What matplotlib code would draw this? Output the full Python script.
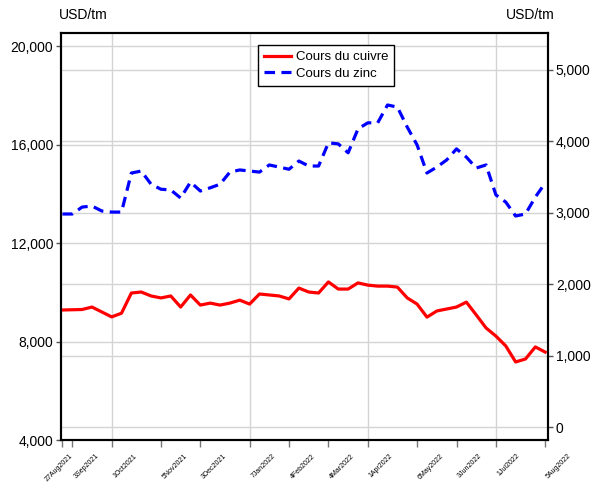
import matplotlib
matplotlib.use('Agg')
import matplotlib.pyplot as plt
import matplotlib.ticker as mticker
import matplotlib.transforms as mtransforms
import pandas as pd

plt.rcParams['font.family'] = ['Liberation Sans Narrow', 'Liberation Sans', 'DejaVu Sans']

# weekly observations, 27 Aug 2021 -> 5 Aug 2022
dates = pd.date_range('2021-08-27', periods=50, freq='7D')

# cours du cuivre, USD/tm (axe gauche)
cuivre = [9280, 9290, 9300, 9400, 9200, 9000, 9150, 9970, 10010, 9850,
          9770, 9850, 9400, 9890, 9480, 9560, 9480, 9560, 9680, 9520,
          9930, 9890, 9850, 9730, 10170, 10010, 9970, 10420, 10130, 10130,
          10380, 10290, 10250, 10250, 10210, 9770, 9520, 8990, 9240, 9320,
          9400, 9600, 9080, 8550, 8220, 7820, 7170, 7290, 7780, 7570]

# cours du zinc, USD/tm (axe droit)
zinc = [2983, 2983, 3080, 3095, 3025, 3010, 3010, 3557, 3585, 3400,
        3330, 3320, 3207, 3430, 3305, 3350, 3400, 3570, 3600, 3585,
        3570, 3670, 3640, 3610, 3725, 3655, 3655, 3980, 3965, 3840,
        4175, 4260, 4260, 4510, 4480, 4200, 3950, 3557, 3640, 3740,
        3895, 3780, 3627, 3670, 3250, 3150, 2955, 2983, 3220, 3417]

tick_dates = ['2021-08-27', '2021-09-03', '2021-10-01', '2021-11-05', '2021-12-03',
              '2022-01-07', '2022-02-04', '2022-03-04', '2022-04-01', '2022-05-06',
              '2022-06-03', '2022-07-01', '2022-08-05']
tick_labels = ['27Aug2021', '3Sep2021', '1Oct2021', '5Nov2021', '3Dec2021',
               '7Jan2022', '4Feb2022', '4Mar2022', '1Apr2022', '6May2022',
               '3Jun2022', '1Jul2022', '5Aug2022']
vgrid_dates = ['2021-10-01', '2022-01-07', '2022-04-01', '2022-07-01']

left_ticks = [4000, 8000, 12000, 16000, 20000]
right_ticks = [0, 1000, 2000, 3000, 4000, 5000]
lo1, hi1 = 4000, 20530
lo2, hi2 = -182, 5518

fig = plt.figure(figsize=(6, 4.87), dpi=100)
ax = fig.add_axes([61 / 600, 1 - 440 / 487, 487 / 600, 407 / 487])
ax2 = ax.twinx()

gcol = '#d4d4d4'
for v in left_ticks[1:]:
    ax.axhline(v, color=gcol, lw=1, zorder=0)
for v in right_ticks:
    ax.axhline(lo1 + (v - lo2) / (hi2 - lo2) * (hi1 - lo1), color=gcol, lw=1, zorder=0)
for d in vgrid_dates:
    ax.axvline(pd.Timestamp(d), color=gcol, lw=1, zorder=0)

l1, = ax.plot(dates, cuivre, color='#ff0000', lw=2.3,
              label='Cours du cuivre', zorder=3)
l2, = ax2.plot(dates, zinc, color='#0000ff', lw=2.3, dashes=(3.3, 2),
               label='Cours du zinc', zorder=3)

ax.set_xlim(pd.Timestamp('2021-08-26'), pd.Timestamp('2022-08-07'))
ax.set_ylim(lo1, hi1)
ax2.set_ylim(lo2, hi2)

ax.set_yticks(left_ticks)
ax2.set_yticks(right_ticks)
fmt = mticker.FuncFormatter(lambda v, p: f'{v:,.0f}')
ax.yaxis.set_major_formatter(fmt)
ax2.yaxis.set_major_formatter(fmt)
ax.tick_params(axis='y', labelsize=10, length=3.6, width=1, color='#555555', pad=2)
ax2.tick_params(axis='y', labelsize=10, length=3.6, width=1, color='#555555', pad=2)

ax.set_xticks([pd.Timestamp(d) for d in tick_dates])
ax.set_xticklabels(tick_labels, rotation=45, ha='left', va='top', fontsize=5)
ax.tick_params(axis='x', length=5, width=1, color='#777777', pad=4)
# first label is pushed left so it does not hit the second one
first = ax.get_xticklabels()[0]
first.set_transform(first.get_transform() +
                    mtransforms.ScaledTranslation(-19 / 100, 0, fig.dpi_scale_trans))

for a in (ax, ax2):
    for s in a.spines.values():
        s.set_linewidth(1.5)
        s.set_color('black')

fig.text(59 / 600, 1 - 15 / 487, 'USD/tm', fontsize=10, ha='left', va='center')
fig.text(555 / 600, 1 - 15 / 487, 'USD/tm', fontsize=10, ha='right', va='center')

leg = ax.legend([l1, l2], ['Cours du cuivre', 'Cours du zinc'],
                loc='upper left', bbox_to_anchor=(0.405, 0.97), borderaxespad=0,
                fancybox=False, framealpha=1, edgecolor='black',
                fontsize=9.5, handlelength=2.0, borderpad=0.45,
                labelspacing=0.3, handletextpad=0.4)
leg.get_frame().set_linewidth(1)

fig.savefig('out.png', dpi=100)
